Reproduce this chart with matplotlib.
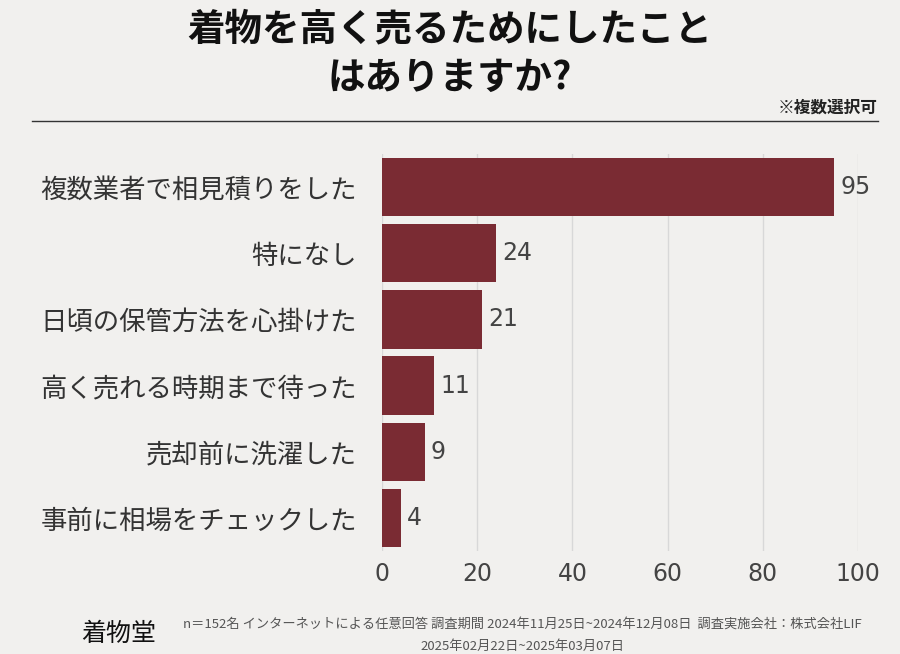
import matplotlib
matplotlib.use("Agg")
import matplotlib.pyplot as plt

plt.rcParams["font.family"] = ["Noto Sans CJK JP"]

categories = ["複数業者で相見積りをした", "特になし", "日頃の保管方法を心掛けた",
              "高く売れる時期まで待った", "売却前に洗濯した", "事前に相場をチェックした"]
values = [95, 24, 21, 11, 9, 4]
xticks = [0, 20, 40, 60, 80, 100]

bg = "#f1f0ee"
fig = plt.figure(figsize=(9, 6.54), dpi=100, facecolor=bg)
ax = fig.add_axes([0.4244, 0.1575, 0.529, 0.607], facecolor=bg)
ypos = list(range(len(categories)))
ax.barh(ypos, values, height=0.88, color="#7a2b33", zorder=3)
for y, v in zip(ypos, values):
    ax.text(v + 1.3, y, str(v), va="center", ha="left", fontsize=17, color="#444444",
            family="DejaVu Sans")
ax.set_ylim(len(categories) - 0.5, -0.5)
ax.set_xlim(0, 100)
ax.set_xticks(xticks)
ax.set_xticklabels([str(t) for t in xticks], fontsize=17, color="#444444", family="DejaVu Sans")
ax.set_yticks(ypos)
ax.set_yticklabels(categories, fontsize=19, color="#333333")
ax.tick_params(length=0, pad=8)
ax.tick_params(axis="y", pad=18)
ax.grid(axis="x", color="#d8d8d8", lw=1, zorder=0)
for s in ax.spines.values():
    s.set_visible(False)

fig.text(0.5, 0.955, "着物を高く売るためにしたこと", ha="center", va="center",
         fontsize=27, fontweight="bold", color="#111111")
fig.text(0.5, 0.882, "はありますか?", ha="center", va="center",
         fontsize=27, fontweight="bold", color="#111111")
fig.text(0.975, 0.835, "※複数選択可", ha="right", va="center", fontsize=12,
         fontweight="bold", color="#222222")
fig.add_artist(plt.Line2D([0.035, 0.975], [0.815, 0.815], color="#333333", lw=1))

fig.text(0.09, 0.03, "着物堂", ha="left", va="center", fontsize=18, color="#111111")
fig.text(0.58, 0.045, "n＝152名 インターネットによる任意回答 調査期間 2024年11月25日~2024年12月08日  調査実施会社：株式会社LIF",
         ha="center", va="center", fontsize=9.5, color="#555555")
fig.text(0.58, 0.012, "2025年02月22日~2025年03月07日", ha="center", va="center",
         fontsize=9.5, color="#555555")

fig.savefig("out.png", dpi=100, facecolor=bg)
